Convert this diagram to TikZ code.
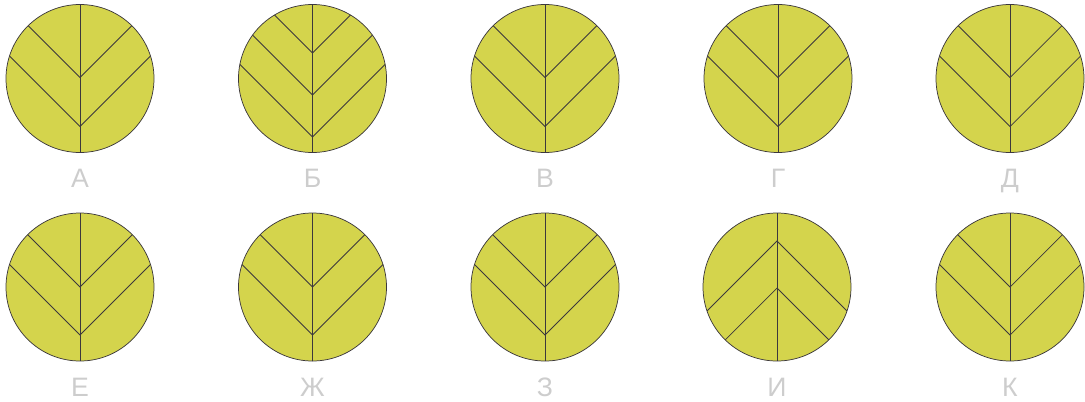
\documentclass[tikz,border=0pt]{standalone}
\usepackage{fontspec}
\newfontfamily\lbfont{Liberation Sans}
\definecolor{leafyellow}{RGB}{212,212,76}
\definecolor{veingray}{RGB}{60,56,60}
\definecolor{labelgray}{RGB}{205,205,205}
\tikzset{
  leaf/.style={fill=leafyellow},
  rim/.style={draw=veingray, line width=0.55pt},
  vein/.style={draw=veingray, line width=0.55pt},
  lbl/.style={text=labelgray, font=\lbfont\fontsize{20}{24}\selectfont, anchor=base, inner sep=0pt}
}
% #1 x, #2 y, #3 list of vertex offsets, #4 direction (1 = chevron down, -1 = chevron up), #5 label
\newcommand\leafdisc[5]{%
  \begin{scope}[shift={(#1,#2)}]
    \path[leaf] (0,0) circle[radius=74];
    \begin{scope}
      \clip (0,0) circle[radius=74];
      \draw[vein] (0,-80) -- (0,80);
      \foreach \v in {#3}{
        \draw[vein] (-120,\v-120*#4) -- (0,\v) -- (120,\v-120*#4);
      }
    \end{scope}
    \draw[rim] (0,0) circle[radius=74];
    \node[lbl] at (0,109) {#5};
  \end{scope}%
}
\begin{document}
\begin{tikzpicture}[x=0.75pt,y=-0.75pt]
\useasboundingbox (0,0) rectangle (1085,401);
\leafdisc{80}{78.5}{-1,48}{1}{А}
\leafdisc{312.5}{78.5}{-25.5,16.5,58.5}{1}{Б}
\leafdisc{545}{78.5}{-1,48}{1}{В}
\leafdisc{778}{78.5}{-1,48}{1}{Г}
\leafdisc{1010}{78.5}{-1,48}{1}{Д}
\leafdisc{80}{287}{0,48}{1}{Е}
\leafdisc{312.5}{287}{0,48}{1}{Ж}
\leafdisc{545}{287}{0,48}{1}{З}
\leafdisc{777}{287}{-46,1}{-1}{И}
\leafdisc{1010}{287}{0,48}{1}{К}
\end{tikzpicture}
\end{document}
